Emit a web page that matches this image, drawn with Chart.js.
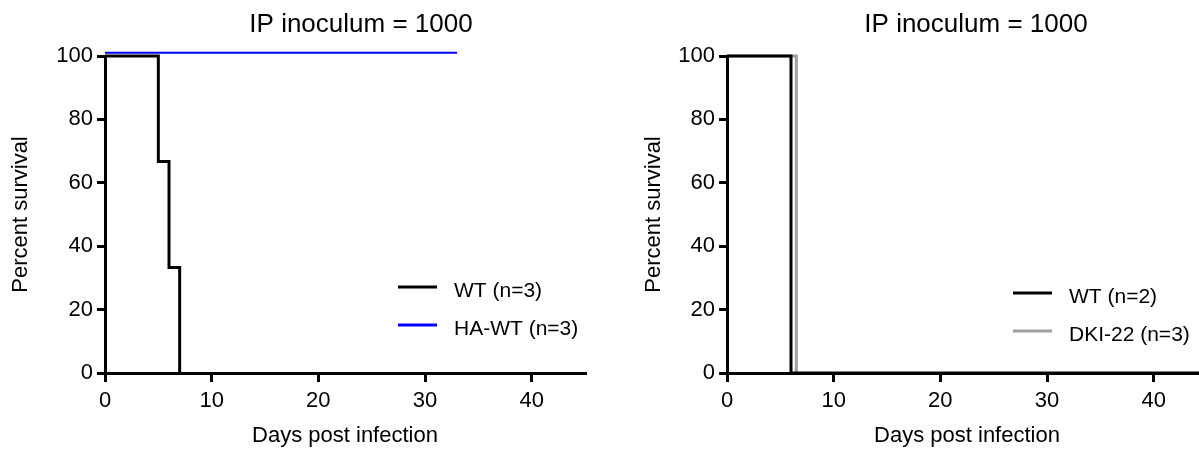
<!DOCTYPE html>
<html>
<head>
<meta charset="utf-8">
<script src="https://cdn.jsdelivr.net/npm/chart.js@4.4.0/dist/chart.umd.min.js"></script>
<style>
  html, body { margin: 0; padding: 0; background: #fff; overflow: hidden; }
  body { width: 1199px; height: 452px; position: relative; }
  .panel { position: absolute; top: 0; height: 452px; }
  #p1 { left: 0; width: 600px; }
  #p2 { left: 600px; width: 620px; }
</style>
</head>
<body>
<div class="panel" id="p1"><canvas id="leftChart"></canvas></div>
<div class="panel" id="p2"><canvas id="rightChart"></canvas></div>
<script>
const titleText = "IP inoculum = 1000";
const xTitle = "Days post infection";
const yTitle = "Percent survival";

const xTicks = [0, 10, 20, 30, 40];
const yTicks = [0, 20, 40, 60, 80, 100];

// left panel
const leftLabels = ["WT (n=3)", "HA-WT (n=3)"];
const leftWtDays = [0, 5, 6, 7];
const leftWtSurv = [100, 66.7, 33.3, 0];
const leftHaDays = [0, 33];
const leftHaSurv = [101, 101];

// right panel
const rightLabels = ["WT (n=2)", "DKI-22 (n=3)"];
const rightWtDays = [0, 6, 45];
const rightWtSurv = [100, 0, 0];
const rightDkiDays = [0, 6.5];
const rightDkiSurv = [100, 0];

const FONT = "'Liberation Sans', Arial, sans-serif";

function toPts(xs, ys) {
    return xs.map((x, i) => ({ x: x, y: ys[i] }));
}

// title above the plot + legend inside the plot area
const panelText = {
    id: 'panelText',
    afterDraw(chart, args, o) {
        const ctx = chart.ctx;
        const area = chart.chartArea;
        ctx.save();
        ctx.fillStyle = '#000';
        ctx.font = '26px ' + FONT;
        ctx.textAlign = 'center';
        ctx.textBaseline = 'alphabetic';
        ctx.fillText(o.title, area.left + o.titleDx, o.titleY);

        ctx.font = '21px ' + FONT;
        ctx.textAlign = 'left';
        chart.data.datasets.forEach((ds, i) => {
            const x = area.left + o.legendDx;
            const y = o.legendY + i * 38;
            ctx.strokeStyle = ds.borderColor;
            ctx.lineWidth = ds.legendWidth;
            ctx.beginPath();
            ctx.moveTo(x, y);
            ctx.lineTo(x + 39, y);
            ctx.stroke();
            ctx.fillText(ds.label, x + 56, y + 10);
        });
        ctx.restore();
    }
};

function makeChart(id, datasets, cfg) {
    return new Chart(document.getElementById(id), {
        type: 'line',
        data: { datasets: datasets },
        plugins: [panelText],
        options: {
            responsive: true,
            maintainAspectRatio: false,
            animation: false,
            layout: { padding: { top: 56, right: cfg.padRight, bottom: 0, left: 0 } },
            elements: { point: { radius: 0 } },
            plugins: {
                legend: { display: false },
                title: { display: false },
                tooltip: { enabled: false },
                panelText: {
                    title: titleText,
                    titleDx: cfg.titleDx,
                    titleY: 32,
                    legendDx: cfg.legendDx,
                    legendY: cfg.legendY
                }
            },
            scales: {
                x: {
                    type: 'linear',
                    min: 0,
                    max: 45,
                    afterFit: s => { s.height = 79; },
                    afterBuildTicks: s => { s.ticks = xTicks.map(v => ({ value: v })); },
                    ticks: { color: '#000', font: { family: FONT, size: 22 }, padding: 6, maxRotation: 0 },
                    grid: { drawOnChartArea: false, drawTicks: true, tickLength: 9, lineWidth: 3, color: '#000' },
                    border: { display: true, color: '#000', width: 3 },
                    title: { display: true, text: xTitle, color: '#000', font: { family: FONT, size: 22 }, padding: { top: 0, bottom: 3 } }
                },
                y: {
                    min: 0,
                    max: 100,
                    afterFit: s => { s.width = cfg.yWidth; },
                    afterBuildTicks: s => { s.ticks = yTicks.map(v => ({ value: v })); },
                    ticks: { color: '#000', font: { family: FONT, size: 22 }, padding: 4 },
                    grid: { drawOnChartArea: false, drawTicks: true, tickLength: 8, lineWidth: 3, color: '#000' },
                    border: { display: true, color: '#000', width: 3 },
                    title: { display: true, text: yTitle, color: '#000', font: { family: FONT, size: 22 }, padding: { top: cfg.yTitlePad, bottom: 0 } }
                }
            }
        }
    });
}

makeChart('leftChart', [
    { label: leftLabels[0], data: toPts(leftWtDays, leftWtSurv), stepped: 'before', borderColor: '#000', borderWidth: 3, legendWidth: 3, clip: false },
    { label: leftLabels[1], data: toPts(leftHaDays, leftHaSurv), stepped: 'before', borderColor: '#0000ff', borderWidth: 2, legendWidth: 3, clip: false }
], { padRight: 15, yWidth: 105, yTitlePad: 8, titleDx: 256, legendDx: 293, legendY: 287 });

makeChart('rightChart', [
    { label: rightLabels[0], data: toPts(rightWtDays, rightWtSurv), stepped: 'before', borderColor: '#000', borderWidth: 3, legendWidth: 3, clip: false },
    { label: rightLabels[1], data: toPts(rightDkiDays, rightDkiSurv), stepped: 'before', borderColor: '#a0a0a0', borderWidth: 3, legendWidth: 3, clip: false }
], { padRight: 13, yWidth: 127, yTitlePad: 41, titleDx: 249, legendDx: 286, legendY: 293 });
</script>
</body>
</html>
